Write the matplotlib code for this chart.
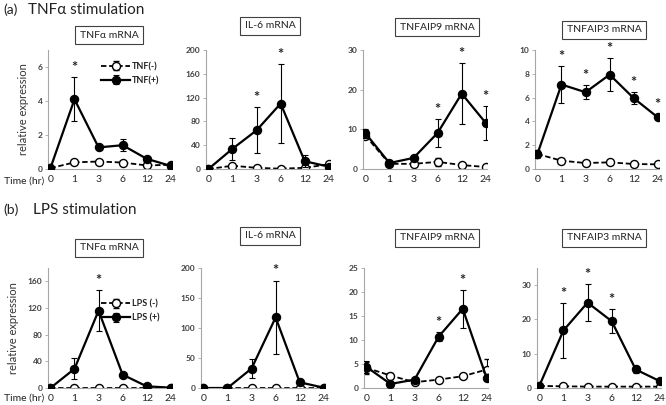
import numpy as np
import matplotlib.pyplot as plt

plt.rcParams['font.family'] = ['Lato', 'DejaVu Sans']

hours = ['0', '1', '3', '6', '12', '24']

# (a) TNFa stimulation
a_titles = ['TNF\u03b1 mRNA', 'IL-6 mRNA', 'TNFAIP9 mRNA', 'TNFAIP3 mRNA']
a_neg = [
    [0.05, 0.39, 0.44, 0.38, 0.21, 0.25],
    [0.0, 5.5, 2.0, 0.5, 2.0, 8.0],
    [8.4, 1.3, 1.3, 1.8, 1.0, 0.5],
    [1.26, 0.7, 0.5, 0.56, 0.42, 0.39],
]
a_neg_err = [
    [0, 0, 0, 0, 0, 0],
    [0, 0, 0, 0, 0, 0],
    [0, 0.3, 0.3, 1.0, 0.3, 0.2],
    [0, 0, 0, 0, 0, 0],
]
a_pos = [
    [0.05, 4.1, 1.27, 1.4, 0.6, 0.18],
    [0.0, 34.0, 65.0, 110.0, 13.0, 4.0],
    [9.0, 1.5, 2.8, 9.1, 19.0, 11.6],
    [1.26, 7.1, 6.45, 7.93, 5.95, 4.34],
]
a_pos_err = [
    [0, 1.3, 0.1, 0.36, 0.12, 0.05],
    [0, 18.5, 38.5, 66.0, 10.0, 2.0],
    [1.2, 0.5, 0.5, 3.5, 7.6, 4.2],
    [0.3, 1.54, 0.6, 1.4, 0.5, 0.25],
]
a_stars = [[1], [2, 3], [3, 4, 5], [1, 2, 3, 4, 5]]
a_ylim = [7, 200, 30, 10]
a_ystep = [2, 40, 10, 2]

# (b) LPS stimulation
b_titles = ['TNF\u03b1 mRNA', 'IL-6 mRNA', 'TNFAIP9 mRNA', 'TNFAIP3 mRNA']
b_neg = [
    [0.5, 0.5, 0.5, 0.5, 0.5, 0.5],
    [0.3, 0.3, 0.3, 0.3, 0.3, 0.3],
    [4.2, 2.6, 1.2, 1.75, 2.45, 3.85],
    [0.6, 0.5, 0.4, 0.4, 0.4, 0.4],
]
b_neg_err = [
    [0, 0, 0, 0, 0, 0],
    [0, 0, 0, 0, 0, 0],
    [1.2, 0.6, 0.3, 0.3, 0.3, 2.1],
    [0, 0, 0, 0, 0, 0],
]
b_pos = [
    [0.0, 28.8, 116.0, 20.0, 2.5, 0.5],
    [0.0, 0.0, 32.5, 117.6, 9.5, 0.5],
    [4.4, 0.84, 1.75, 10.7, 16.5, 2.0],
    [0.7, 16.8, 24.9, 19.5, 5.4, 2.0],
]
b_pos_err = [
    [0, 15.7, 31.0, 3.0, 1.0, 0],
    [0, 0, 15.4, 61.5, 2.0, 0],
    [1.2, 0.3, 0.3, 1.0, 3.9, 0.3],
    [0.3, 8.0, 5.3, 3.5, 1.0, 0.3],
]
b_stars = [[2], [3], [3, 4], [1, 2, 3]]
b_ylim = [180, 200, 25, 35]
b_ystep = [40, 50, 5, 10]

W, H = 666, 405
a_left = [48, 206, 363, 535]
b_left = [48, 201, 364, 537]
a_box = [(109, 35), (270, 26), (437, 27), (604, 30)]
b_box = [(109, 248), (270, 236), (437, 238), (604, 238)]

fig = plt.figure(figsize=(W / 100, H / 100), dpi=100)

def draw_row(lefts, top, bottom, titles, neg, neg_err, pos, pos_err, stars,
             ylims, ysteps, boxes, labels):
    axes = []
    x = np.arange(len(hours))
    for i in range(4):
        ax = fig.add_axes([lefts[i] / W, 1 - bottom / H, 124 / W, (bottom - top) / H])
        ax.errorbar(x, neg[i], yerr=neg_err[i], color='black', lw=1.3, ls=(0, (3, 1.5)),
                    marker='o', ms=5.8, mfc='white', mec='black', mew=1,
                    elinewidth=0.8, capsize=2.2, capthick=0.8, label=labels[0], zorder=2)
        ax.errorbar(x, pos[i], yerr=pos_err[i], color='black', lw=1.6,
                    marker='o', ms=5.8, mfc='black', mec='black',
                    elinewidth=0.8, capsize=2.2, capthick=0.8, label=labels[1], zorder=3)
        for s in stars[i]:
            ax.annotate('*', (s, pos[i][s] + pos_err[i][s]), xytext=(0, 1.5),
                        textcoords='offset points', ha='center', va='bottom',
                        fontsize=10.5, fontweight='bold', color='#222222')
        ax.set_xlim(-0.1, 5.05)
        ax.set_ylim(0, ylims[i])
        ax.set_yticks(np.arange(0, ylims[i] + 0.01, ysteps[i]))
        ax.set_xticks(x)
        ax.set_xticklabels(hours)
        for sp in ['top', 'right']:
            ax.spines[sp].set_visible(False)
        for sp in ['left', 'bottom']:
            ax.spines[sp].set_color('#a6a6a6')
            ax.spines[sp].set_linewidth(0.8)
        ax.tick_params(axis='y', labelsize=6, colors='#a6a6a6', labelcolor='#404040',
                       length=2, width=0.6, pad=2)
        ax.tick_params(axis='x', labelsize=7.5, colors='#a6a6a6', labelcolor='#262626',
                       length=0, pad=4)
        for t in ax.get_yticklabels():
            t.set_fontweight('bold')
        ax.patch.set_alpha(0)
        bx, by = boxes[i]
        fig.text(bx / W, 1 - by / H, titles[i], ha='center', va='center', fontsize=7.5,
                 color='#222222',
                 bbox=dict(boxstyle='square,pad=0.45', fc='white', ec='#404040', lw=0.8))
        axes.append(ax)
    return axes

ax_a = draw_row(a_left, 50, 169, a_titles, a_neg, a_neg_err, a_pos, a_pos_err, a_stars,
                a_ylim, a_ystep, a_box, ['TNF(-)', 'TNF(+)'])
ax_b = draw_row(b_left, 268, 388, b_titles, b_neg, b_neg_err, b_pos, b_pos_err, b_stars,
                b_ylim, b_ystep, b_box, ['LPS (-)', 'LPS (+)'])

for ax, anchor in [(ax_a[0], (0.40, 0.93)), (ax_b[0], (0.40, 0.77))]:
    h, l = ax.get_legend_handles_labels()
    leg = ax.legend(h, l, loc='upper left', bbox_to_anchor=anchor, frameon=False,
                    fontsize=6.5, handlelength=3.2, handletextpad=0.2, labelspacing=0.55,
                    borderaxespad=0)
    for t in leg.get_texts():
        t.set_fontweight('bold')
        t.set_color('#222222')
    ax.set_ylabel('relative expression', fontsize=8, color='#333333', labelpad=6)

fig.text(3 / W, 1 - 10 / H, '(a)', fontsize=10, va='center', color='#222222')
fig.text(28 / W, 1 - 10 / H, 'TNF\u03b1 stimulation', fontsize=11, va='center', color='#222222')
fig.text(3 / W, 1 - 210 / H, '(b)', fontsize=10, va='center', color='#222222')
fig.text(33 / W, 1 - 210 / H, 'LPS stimulation', fontsize=11, va='center', color='#222222')
fig.text(4 / W, 1 - 181 / H, 'Time (hr)', fontsize=7.5, va='center', color='#222222')
fig.text(4 / W, 1 - 398 / H, 'Time (hr)', fontsize=7.5, va='center', color='#222222')

fig.savefig('out.png', dpi=100)
